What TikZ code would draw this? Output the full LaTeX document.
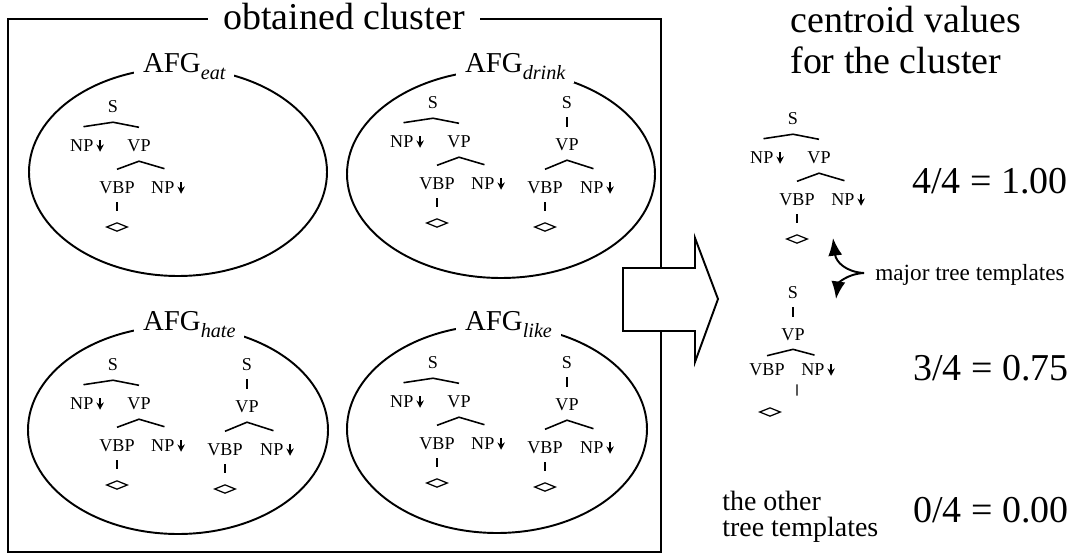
\documentclass[tikz,border=0pt]{standalone}
\usepackage{fontspec}
\setmainfont{Liberation Serif}
\usetikzlibrary{arrows.meta,positioning,shapes.geometric}

% substitution mark after a category
\newcommand{\subst}{\,\tikz[baseline]\draw[line width=1pt,-{Stealth[length=4.2pt,width=4.2pt]}] (0pt,6.6pt) -- (0pt,0pt);}
% verb index of an AFG
\newcommand{\verbsub}[1]{\raisebox{-4pt}{\fontsize{11.5}{12}\selectfont\itshape #1}}

\begin{document}
\begin{tikzpicture}[x=0.02cm, y=-0.02cm,
      frame/.style={
         line width=1.1pt},
      cluster/.style={
         ellipse,
         draw,
         line width=1.1pt,
         inner sep=0pt,
         minimum height=4.16cm},
      afg/.style={
         fill=white,
         inner xsep=5pt,
         inner ysep=2pt,
         anchor=base west,
         font=\fontsize{16.4}{18}\selectfont},
      cat/.style={
         inner sep=0pt,
         font=\fontsize{10.3}{12}\selectfont},
      lex/.style={
         diamond,
         draw,
         line width=0.7pt,
         inner sep=0pt,
         minimum width=12pt,
         minimum height=5pt},
      branch/.style={
         line width=0.9pt},
      stem/.style={
         line width=0.7pt,
         shorten <=4.5pt,
         shorten >=6.5pt},
      big/.style={
         inner sep=0pt,
         font=\fontsize{21.6}{26}\selectfont},
      note/.style={
         inner sep=0pt,
         font=\fontsize{13.2}{16}\selectfont},
      other/.style={
         inner sep=0pt,
         font=\fontsize{15.9}{18}\selectfont},
      arrow_curve/.style={
         -{Latex[length=10pt,width=8pt]},
         line width=1.1pt}
]
      \fill[white] (0,0) rectangle (1084,556);
      \useasboundingbox (0,0) rectangle (1084,556);

      %cluster frame
      \draw[frame] (8,19) rectangle (661,552);
      \node[big, fill=white, inner xsep=9pt, inner ysep=3pt, anchor=base] (obtained) at (344,29) {obtained cluster};

      %one ellipse per verb
      \foreach \n/\x/\y/\w/\lx/\ly in {% name/centre x/centre y/width/label x/label y
        eat/178/172/298/134/72,
        drink/501/174/308/456/72,
        hate/178/430/300/134/330,
        like/497/429/300/456/330}
      {
        \node[cluster, minimum width=\w*0.02cm] (\n) at (\x,\y) {};
        \node[afg] (\n-lab) at (\lx,\ly) {AFG\verbsub{\n}};
      }

      %trees with NP subject
      \foreach \n/\x/\y in {eatA/113/107, drinkA/433/103, hateA/113/365, likeA/433/363, centA/793/119}
      {
        \node[cat] (\n-s) at (\x,\y) {S};
        \node[cat] (\n-np) at (\x-26,\y+39) {NP\subst};
        \node[cat] (\n-vp) at (\x+26,\y+39) {VP};
        \node[cat] (\n-vbp) at (\x+4,\y+81) {VBP};
        \node[cat] (\n-obj) at (\x+55,\y+81) {NP\subst};
        \node[lex] (\n-lex) at (\x+4,\y+120) {};
        \draw[branch] ([xshift=-2pt,yshift=7pt]\n-np.north) -- ([yshift=-5pt]\n-s.south) -- ([yshift=7pt]\n-vp.north);
        \draw[branch] ([yshift=7pt]\n-vbp.north) -- ([yshift=-5pt]\n-vp.south) -- ([xshift=-2pt,yshift=7pt]\n-obj.north);
        \draw[stem] (\n-vbp) -- (\n-lex);
      }

      %trees without subject
      \foreach \n/\x/\y in {drinkB/567/103, hateB/247/365, likeB/567/363}
      {
        \node[cat] (\n-s) at (\x,\y) {S};
        \node[cat] (\n-vp) at (\x,\y+42) {VP};
        \node[cat] (\n-vbp) at (\x-22,\y+85) {VBP};
        \node[cat] (\n-obj) at (\x+30,\y+85) {NP\subst};
        \node[lex] (\n-lex) at (\x-22,\y+124) {};
        \draw[stem] (\n-s) -- (\n-vp);
        \draw[branch] ([yshift=7pt]\n-vbp.north) -- ([yshift=-5pt]\n-vp.south) -- ([xshift=-2pt,yshift=7pt]\n-obj.north);
        \draw[stem] (\n-vbp) -- (\n-lex);
      }

      %big arrow
      \draw[frame, fill=white] (623,268) -- (695,268) -- (695,238) -- (718,299) -- (695,362) -- (695,331) -- (623,331) -- cycle;

      %centroid side
      \node[big, anchor=base west] (centroid) at (790,32) {centroid values};
      \node[big, anchor=base west] (forclu) at (790,73) {for the cluster};

      \node[cat] (centB-s) at (793,293) {S};
      \node[cat] (centB-vp) at (793,335) {VP};
      \node[cat] (centB-vbp) at (767,370) {VBP};
      \node[cat] (centB-obj) at (818,370) {NP\subst};
      \node[lex] (centB-lex) at (770,412) {};
      \draw[stem] (centB-s) -- (centB-vp);
      \draw[branch] ([yshift=4.5pt]centB-vbp.north) -- ([yshift=-4.5pt]centB-vp.south) -- ([xshift=-2pt,yshift=4.5pt]centB-obj.north);
      \draw[stem] ([xshift=17pt]centB-vbp.south) -- ([xshift=15.4pt]centB-lex.north);

      \node[big, anchor=base west] (score1) at (912,193) {4/4 = 1.00};
      \node[big, anchor=base west] (score2) at (913,380) {3/4 = 0.75};
      \node[big, anchor=base west] (score3) at (913,522) {0/4 = 0.00};

      \node[note, anchor=base west] (major) at (875,280) {major tree templates};
      \coordinate (fork) at (864,273);
      \coordinate (up) at (833,238);
      \coordinate (dn) at (836,299);
      \draw[arrow_curve] (fork) .. controls (846,272) and (836,262) .. (up);
      \draw[arrow_curve] (fork) .. controls (846,274) and (838,284) .. (dn);

      \node[other, anchor=base west] (other1) at (722,510) {the other};
      \node[other, anchor=base west] (other2) at (722,536) {tree templates};
\end{tikzpicture}
\end{document}
